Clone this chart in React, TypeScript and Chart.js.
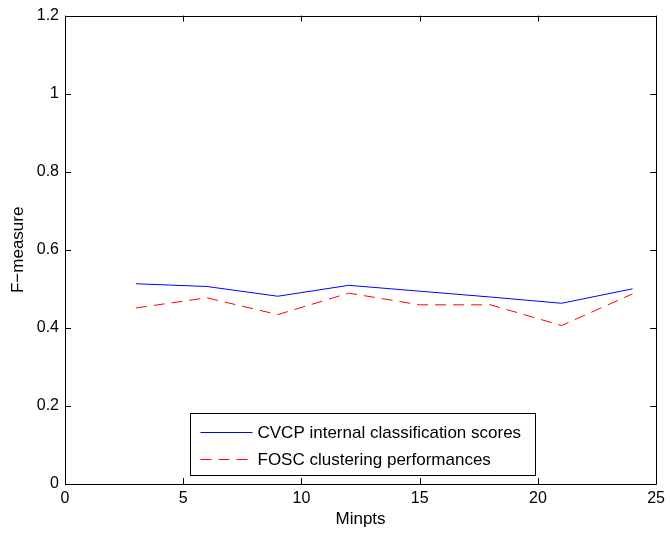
import { useEffect, useRef } from 'react';
import { Chart, registerables } from 'chart.js';
Chart.register(...registerables);

const minpts = [3, 6, 9, 12, 15, 18, 21, 24];
const cvcpScores = [0.513, 0.506, 0.481, 0.509, 0.494, 0.479, 0.463, 0.5];
const foscScores = [0.451, 0.477, 0.434, 0.489, 0.459, 0.459, 0.406, 0.487];
const xTicks = [0, 5, 10, 15, 20, 25];
const yTicks = [0, 0.2, 0.4, 0.6, 0.8, 1, 1.2];
const seriesLabels = ['CVCP internal classification scores', 'FOSC clustering performances'];
const xTitle = 'Minpts';
const yTitle = 'F\u2212measure';

const FONT = '"Liberation Sans", Arial, Helvetica, sans-serif';
const TICK = 6;

const framePlugin = {
  id: 'matlabFrame',
  afterDraw(chart: any) {
    const ctx = chart.ctx;
    const { left, right, top, bottom } = chart.chartArea;
    const xs = chart.scales.x;
    const ys = chart.scales.y;
    ctx.save();
    ctx.strokeStyle = '#000';
    ctx.lineWidth = 1;
    ctx.beginPath();
    ctx.rect(Math.round(left) + 0.5, Math.round(top) + 0.5, Math.round(right - left), Math.round(bottom - top));
    ctx.stroke();
    ctx.beginPath();
    xTicks.forEach((v) => {
      const px = Math.round(xs.getPixelForValue(v)) + 0.5;
      ctx.moveTo(px, bottom);
      ctx.lineTo(px, bottom - TICK);
      ctx.moveTo(px, top);
      ctx.lineTo(px, top + TICK);
    });
    yTicks.forEach((v) => {
      const py = Math.round(ys.getPixelForValue(v)) + 0.5;
      ctx.moveTo(left, py);
      ctx.lineTo(left + TICK, py);
      ctx.moveTo(right, py);
      ctx.lineTo(right - TICK, py);
    });
    ctx.stroke();

    // legend box
    const bx = 190.5, by = 413.5, bw = 345, bh = 62;
    ctx.fillStyle = '#fff';
    ctx.fillRect(bx, by, bw, bh);
    ctx.strokeStyle = '#000';
    ctx.strokeRect(bx, by, bw, bh);
    ctx.font = '17px ' + FONT;
    ctx.textBaseline = 'middle';
    ctx.textAlign = 'left';
    chart.data.datasets.forEach((ds: any, i: number) => {
      const ry = Math.round(by + 18 + i * 27.5) + 0.5;
      ctx.strokeStyle = ds.borderColor;
      ctx.lineWidth = ds.borderWidth;
      ctx.setLineDash(ds.borderDash || []);
      ctx.beginPath();
      ctx.moveTo(bx + 10, ry);
      ctx.lineTo(bx + 62, ry);
      ctx.stroke();
      ctx.setLineDash([]);
      ctx.fillStyle = '#000';
      ctx.fillText(ds.label, bx + 67, ry + 1);
    });
    ctx.restore();
  },
};

export default function App() {
  const ref = useRef<HTMLCanvasElement>(null);
  useEffect(() => {
    document.body.style.margin = '0';
    const canvas = ref.current!;
    const chart = new Chart(canvas, {
      type: 'line',
      data: {
        datasets: [
          {
            label: seriesLabels[0],
            data: minpts.map((x, i) => ({ x, y: cvcpScores[i] })),
            borderColor: '#0000ff',
            borderWidth: 1,
            pointRadius: 0,
            fill: false,
            tension: 0,
          },
          {
            label: seriesLabels[1],
            data: minpts.map((x, i) => ({ x, y: foscScores[i] })),
            borderColor: '#ff0000',
            borderWidth: 1,
            borderDash: [11, 7],
            pointRadius: 0,
            fill: false,
            tension: 0,
          },
        ],
      },
      options: {
        responsive: false,
        animation: false,
        devicePixelRatio: 1,
        layout: { padding: { left: 0, right: 9, top: 14, bottom: 0 } },
        plugins: { legend: { display: false }, tooltip: { enabled: false } },
        scales: {
          x: {
            type: 'linear',
            min: 0,
            max: 25,
            afterFit: (s: any) => { s.height = 49; },
            afterBuildTicks: (s: any) => { s.ticks = xTicks.map((v) => ({ value: v })); },
            grid: { display: false, drawTicks: false },
            border: { display: false },
            ticks: { color: '#000', font: { family: FONT, size: 16 }, padding: 5, maxRotation: 0, autoSkip: false },
            title: { display: true, text: xTitle, color: '#000', font: { family: FONT, size: 17 }, padding: { top: 0, bottom: 3 } },
          },
          y: {
            type: 'linear',
            min: 0,
            max: 1.2,
            afterFit: (s: any) => { s.width = 65; },
            afterBuildTicks: (s: any) => { s.ticks = yTicks.map((v) => ({ value: v })); },
            grid: { display: false, drawTicks: false },
            border: { display: false },
            ticks: {
              color: '#000',
              font: { family: FONT, size: 16 },
              padding: 6,
              autoSkip: false,
              callback: (v: any) => String(Number(Number(v).toFixed(1))),
            },
            title: { display: true, text: yTitle, color: '#000', font: { family: FONT, size: 17 }, padding: { top: 8, bottom: 0 } },
          },
        },
      },
      plugins: [framePlugin],
    });
    return () => chart.destroy();
  }, []);
  return <canvas ref={ref} width={670} height={533} style={{ display: 'block' }} />;
}
